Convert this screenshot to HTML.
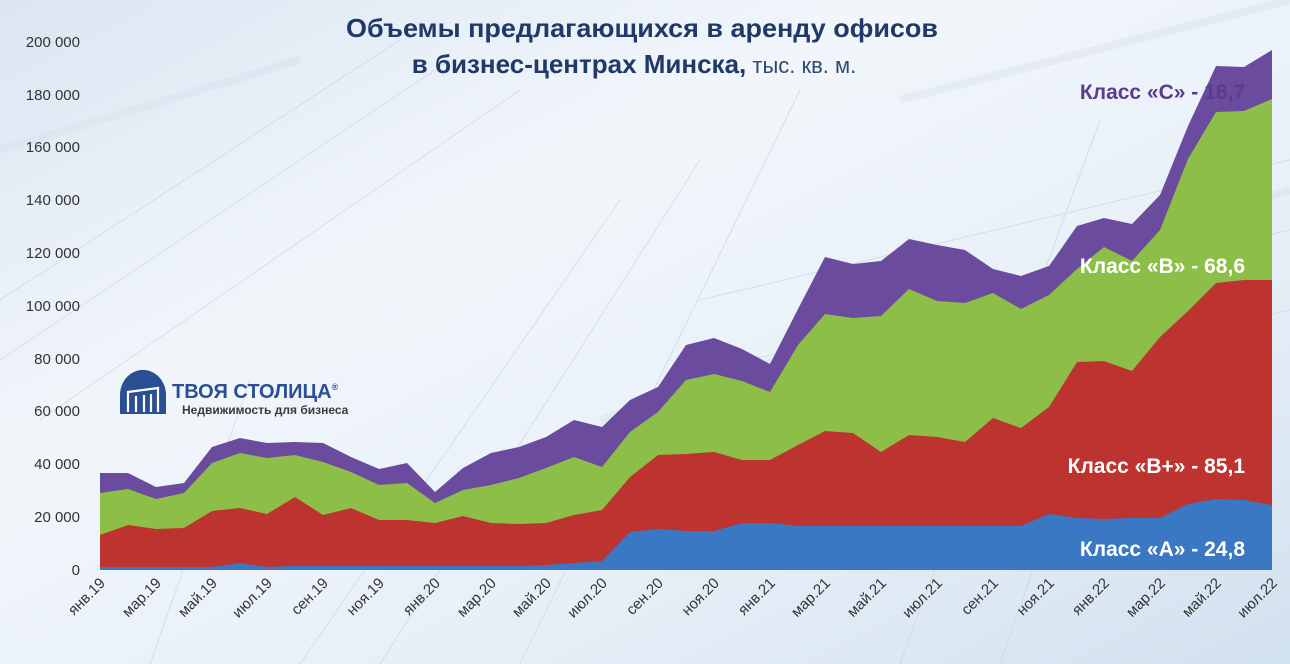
<!DOCTYPE html>
<html><head><meta charset="utf-8"><style>
html,body{margin:0;padding:0;}
body{width:1290px;height:664px;overflow:hidden;font-family:"Liberation Sans",sans-serif;background:#f3f7fb;}
</style></head><body>
<svg width="1290" height="664" viewBox="0 0 1290 664" xmlns="http://www.w3.org/2000/svg" style="display:block">
<defs>
<linearGradient id="bg" x1="0" y1="0" x2="1" y2="1">
<stop offset="0" stop-color="#dbe6f2"/><stop offset="0.35" stop-color="#f2f6fb"/><stop offset="0.7" stop-color="#e5eef7"/><stop offset="1" stop-color="#d2e1ef"/>
</linearGradient>
</defs>
<rect width="1290" height="664" fill="url(#bg)"/>
<g stroke="#c9d6e3" stroke-width="1" opacity="0.7" fill="none">
<path d="M0 300 L400 40 M0 360 L450 60 M40 420 L520 90 M300 664 L620 200 M380 664 L700 160 M700 300 L1290 160 M750 360 L1290 230 M820 420 L1290 310 M900 664 L1100 120 M1000 664 L1180 150 M150 664 L250 380 M520 664 L800 90"/>
</g>
<g stroke="#d8e2ec" stroke-width="8" opacity="0.5" fill="none">
<path d="M600 420 L1290 190 M900 100 L1290 0 M0 150 L300 60"/>
</g>
<!-- title -->
<text x="642" y="37" text-anchor="middle" font-size="26" font-weight="bold" fill="#1f3a66" textLength="592" lengthAdjust="spacingAndGlyphs">Объемы предлагающихся в аренду офисов</text>
<text x="634" y="73" text-anchor="middle" font-size="26" fill="#1f3a66"><tspan font-weight="bold">в бизнес-центрах Минска,</tspan><tspan font-size="22" fill="#2d4a75"> тыс. кв. м.</tspan></text>
<!-- y axis -->
<g font-size="15" fill="#333" text-anchor="end">
<text x="80" y="575">0</text>
<text x="80" y="522">20 000</text>
<text x="80" y="469">40 000</text>
<text x="80" y="416">60 000</text>
<text x="80" y="364">80 000</text>
<text x="80" y="311">100 000</text>
<text x="80" y="258">120 000</text>
<text x="80" y="205">140 000</text>
<text x="80" y="152">160 000</text>
<text x="80" y="100">180 000</text>
<text x="80" y="47">200 000</text>
</g>
<!-- areas -->
<polygon fill="#6b4b9e" points="100,473 128,473 156,487 184,483 212,447 240,438 267,443 295,442 323,443 351,457 379,469 407,463 435,492 463,468 491,453 519,447 546,437 574,420 602,427 630,400 658,387 686,345 714,338 742,349 770,364 798,309 825,257 853,264 881,261 909,239 937,245 965,250 993,269 1021,276 1049,266 1077,226 1104,218 1132,224 1160,195 1188,126 1216,66 1244,67 1272,50 1272,570 100,570"/>
<polygon fill="#8dbf48" points="100,493 128,489 156,499 184,493 212,463 240,453 267,458 295,455 323,462 351,472 379,485 407,483 435,503 463,490 491,485 519,478 546,468 574,457 602,467 630,432 658,412 686,380 714,374 742,381 770,392 798,345 825,314 853,318 881,316 909,289 937,301 965,303 993,293 1021,309 1049,295 1077,269 1104,247 1132,261 1160,230 1188,159 1216,112 1244,111 1272,99 1272,570 100,570"/>
<polygon fill="#bd3330" points="100,535 128,525 156,529 184,528 212,511 240,508 267,514 295,497 323,515 351,508 379,520 407,520 435,523 463,516 491,523 519,524 546,523 574,515 602,510 630,477 658,455 686,454 714,452 742,460 770,460 798,445 825,431 853,433 881,452 909,435 937,437 965,442 993,418 1021,428 1049,407 1077,362 1104,361 1132,371 1160,337 1188,311 1216,283 1244,280 1272,280 1272,570 100,570"/>
<polygon fill="#3b78c3" points="100,567 128,567 156,567 184,567 212,567 240,563 267,567 295,566 323,566 351,566 379,566 407,566 435,566 463,566 491,566 519,566 546,565 574,563 602,561 630,532 658,529 686,531 714,531 742,523 770,523 798,526 825,526 853,526 881,526 909,526 937,526 965,526 993,526 1021,526 1049,514 1077,518 1104,519 1132,518 1160,518 1188,504 1216,499 1244,500 1272,505 1272,570 100,570"/>
<!-- series labels -->
<g font-size="21" font-weight="bold" text-anchor="end">
<text x="1245" y="99" fill="#5a3c8c">Класс «С» - 18,7</text>
<text x="1245" y="273" fill="#ffffff">Класс «В» - 68,6</text>
<text x="1245" y="473" fill="#ffffff">Класс «В+» - 85,1</text>
<text x="1245" y="556" fill="#ffffff">Класс «А» - 24,8</text>
</g>
<!-- logo -->
<g>
<path d="M120 414 L120 395 A22 24 0 0 1 166 395 L166 414 Z" fill="#2b4f94"/>
<g stroke="#fff" stroke-width="2.2" fill="none">
<path d="M128 412 L128 392 L158 388 L158 412 M136 412 L136 396 M144 412 L144 395 M151 412 L151 394"/>
</g>
<text x="172" y="398" font-size="20" font-weight="bold" fill="#2b4f94">ТВОЯ СТОЛИЦА<tspan font-size="9" dy="-8">®</tspan></text>
<text x="182" y="414" font-size="12" font-weight="bold" fill="#3a3a3a">Недвижимость для бизнеса</text>
</g>
<!-- x labels -->
<g font-size="15" fill="#333" text-anchor="end">
<text transform="translate(106,584) rotate(-45)">янв.19</text>
<text transform="translate(162,584) rotate(-45)">мар.19</text>
<text transform="translate(218,584) rotate(-45)">май.19</text>
<text transform="translate(273,584) rotate(-45)">июл.19</text>
<text transform="translate(329,584) rotate(-45)">сен.19</text>
<text transform="translate(385,584) rotate(-45)">ноя.19</text>
<text transform="translate(441,584) rotate(-45)">янв.20</text>
<text transform="translate(497,584) rotate(-45)">мар.20</text>
<text transform="translate(552,584) rotate(-45)">май.20</text>
<text transform="translate(608,584) rotate(-45)">июл.20</text>
<text transform="translate(664,584) rotate(-45)">сен.20</text>
<text transform="translate(720,584) rotate(-45)">ноя.20</text>
<text transform="translate(776,584) rotate(-45)">янв.21</text>
<text transform="translate(831,584) rotate(-45)">мар.21</text>
<text transform="translate(887,584) rotate(-45)">май.21</text>
<text transform="translate(943,584) rotate(-45)">июл.21</text>
<text transform="translate(999,584) rotate(-45)">сен.21</text>
<text transform="translate(1055,584) rotate(-45)">ноя.21</text>
<text transform="translate(1110,584) rotate(-45)">янв.22</text>
<text transform="translate(1166,584) rotate(-45)">мар.22</text>
<text transform="translate(1222,584) rotate(-45)">май.22</text>
<text transform="translate(1278,584) rotate(-45)">июл.22</text>
</g>
</svg>
</body></html>
